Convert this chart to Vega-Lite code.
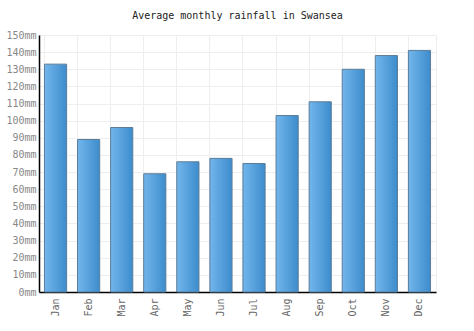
{
  "$schema": "https://vega.github.io/schema/vega-lite/v6.json",
  "width": 397,
  "height": 257,
  "autosize": {"type": "none"},
  "padding": {"left": 39, "top": 35, "right": 38, "bottom": 39},
  "background": "white",
  "title": {
    "text": "Average monthly rainfall in Swansea",
    "font": "DejaVu Sans Mono",
    "fontSize": 10,
    "fontWeight": "normal",
    "color": "#222",
    "offset": 9
  },
  "data": {
    "values": [
      {"month": "Jan", "rain": 133},
      {"month": "Feb", "rain": 89},
      {"month": "Mar", "rain": 96},
      {"month": "Apr", "rain": 69},
      {"month": "May", "rain": 76},
      {"month": "Jun", "rain": 78},
      {"month": "Jul", "rain": 75},
      {"month": "Aug", "rain": 103},
      {"month": "Sep", "rain": 111},
      {"month": "Oct", "rain": 130},
      {"month": "Nov", "rain": 138},
      {"month": "Dec", "rain": 141}
    ]
  },
  "mark": {
    "type": "bar",
    "fill": {
      "gradient": "linear",
      "x1": 0, "y1": 0, "x2": 1, "y2": 0,
      "stops": [
        {"offset": 0, "color": "#72b6ec"},
        {"offset": 1, "color": "#3d8ccc"}
      ]
    },
    "stroke": "#5b7c99",
    "strokeWidth": 1
  },
  "encoding": {
    "x": {
      "field": "month",
      "type": "nominal",
      "sort": null,
      "scale": {"paddingInner": 0.33, "paddingOuter": 0.165},
      "axis": {
        "title": null,
        "labelAngle": -90,
        "labelFont": "DejaVu Sans Mono",
        "labelFontSize": 10,
        "labelColor": "#666",
        "labelPadding": 6,
        "ticks": false,
        "domainColor": "#000",
        "domainWidth": 1.5,
        "grid": true,
        "bandPosition": 0,
        "gridColor": "#eeeeee"
      }
    },
    "y": {
      "field": "rain",
      "type": "quantitative",
      "scale": {"domain": [0, 150]},
      "axis": {
        "title": null,
        "values": [0,10,20,30,40,50,60,70,80,90,100,110,120,130,140,150],
        "labelExpr": "datum.value + 'mm'",
        "labelFont": "DejaVu Sans Mono",
        "labelFontSize": 10,
        "labelColor": "#888",
        "labelPadding": 3,
        "ticks": false,
        "domainColor": "#000",
        "domainWidth": 1.5,
        "gridColor": "#eeeeee"
      }
    }
  },
  "config": {"view": {"stroke": "#eeeeee"}}
}
